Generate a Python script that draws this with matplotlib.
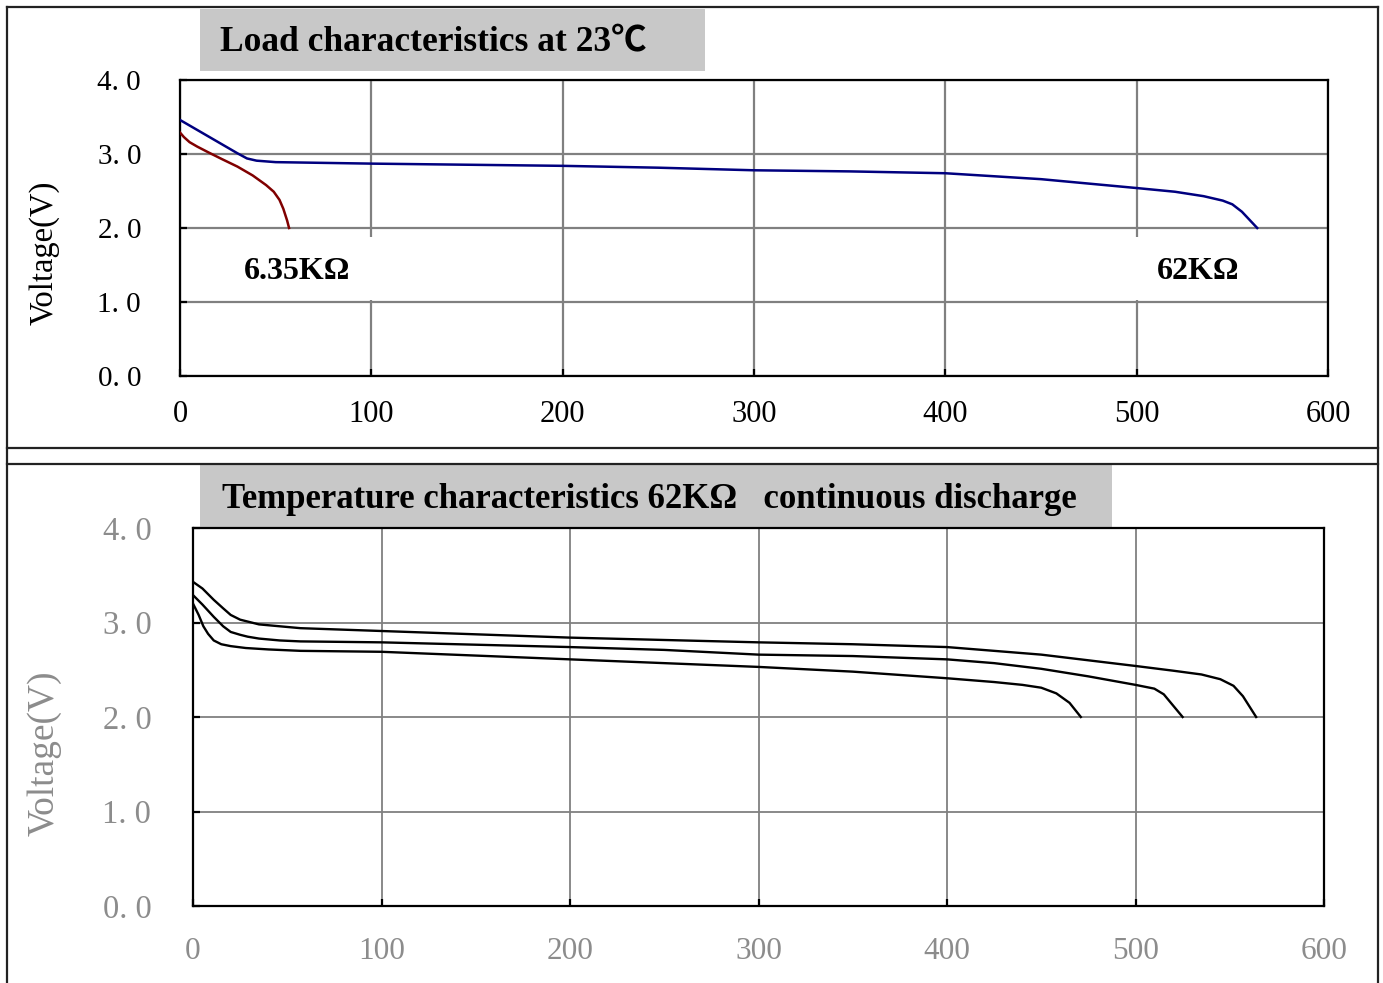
import matplotlib
matplotlib.use("Agg")
import matplotlib.pyplot as plt
from matplotlib.lines import Line2D
from matplotlib.patches import Rectangle

plt.rcParams['font.family'] = ['Liberation Serif', 'Noto Sans CJK SC', 'DejaVu Serif']

# ---- data: load characteristics at 23C (hours vs volts) ----
t_62k = [0, 10, 20, 30, 35, 40, 50, 75, 100, 150, 200, 250, 300, 350, 400, 450, 500,
         520, 535, 545, 550, 555, 563]
v_62k = [3.46, 3.31, 3.16, 3.01, 2.94, 2.91, 2.89, 2.88, 2.87, 2.855, 2.84, 2.815, 2.78,
         2.765, 2.74, 2.66, 2.54, 2.49, 2.43, 2.37, 2.32, 2.22, 2.00]
t_635k = [0, 2, 5, 9, 15, 22, 30, 38, 45, 49, 52, 54, 56, 57]
v_635k = [3.29, 3.23, 3.16, 3.10, 3.02, 2.93, 2.83, 2.71, 2.58, 2.49, 2.38, 2.26, 2.10, 2.00]

# ---- data: temperature characteristics, 62K continuous discharge ----
t_warm = [0, 5, 11, 16, 20, 25, 29, 35, 46, 57, 100, 150, 200, 250, 300, 350, 400, 425,
          450, 475, 500, 520, 535, 545, 552, 557, 564]
v_warm = [3.43, 3.36, 3.24, 3.15, 3.08, 3.03, 3.01, 2.98, 2.96, 2.94, 2.91, 2.875, 2.84,
          2.815, 2.79, 2.77, 2.74, 2.70, 2.66, 2.60, 2.54, 2.49, 2.45, 2.40, 2.33, 2.22, 2.00]
t_mid = [0, 5, 11, 16, 20, 25, 29, 35, 46, 57, 100, 150, 200, 250, 300, 350, 400, 425,
         450, 475, 500, 510, 515, 520, 525]
v_mid = [3.29, 3.19, 3.06, 2.96, 2.90, 2.87, 2.85, 2.83, 2.81, 2.80, 2.79, 2.765, 2.74,
         2.71, 2.66, 2.645, 2.61, 2.57, 2.51, 2.43, 2.34, 2.30, 2.24, 2.12, 2.00]
t_cold = [0, 3, 5.5, 8, 11, 15, 20, 28, 40, 57, 100, 150, 200, 250, 300, 350, 400, 425,
          440, 450, 458, 465, 471]
v_cold = [3.20, 3.08, 2.96, 2.88, 2.81, 2.77, 2.75, 2.73, 2.715, 2.70, 2.69, 2.65, 2.61,
          2.57, 2.53, 2.48, 2.41, 2.37, 2.34, 2.31, 2.25, 2.15, 2.00]

x_ticks = [0, 100, 200, 300, 400, 500, 600]
y_ticks = [0, 1, 2, 3, 4]
y_ticklabels = ["0. 0", "1. 0", "2. 0", "3. 0", "4. 0"]

W, H = 1383, 983
fig = plt.figure(figsize=(W / 100, H / 100), dpi=100)


def fx(x):
    return x / W


def fy(y):
    return 1 - y / H


def style_axes(ax, tick_color, xsize, ysize, xpad, ypad, grid_lw):
    ax.set_xlim(0, 600)
    ax.set_ylim(0, 4)
    ax.set_xticks(x_ticks)
    ax.set_yticks(y_ticks)
    ax.set_yticklabels(y_ticklabels)
    ax.grid(True, color='#808080', lw=grid_lw)
    ax.set_axisbelow(True)
    for s in ax.spines.values():
        s.set_linewidth(1.6)
        s.set_color('black')
    ax.tick_params(direction='in', length=5, width=1.6, color='black', labelcolor=tick_color)
    ax.tick_params(axis='x', pad=xpad, labelsize=xsize)
    ax.tick_params(axis='y', pad=ypad, labelsize=ysize)


# ---- top panel ----
ax1 = fig.add_axes([fx(180), fy(376), fx(1328 - 180), (376 - 80) / H])
style_axes(ax1, 'black', 22, 21, 17, 28, 1.6)
ax1.plot(t_62k, v_62k, color='#00007F', lw=1.8, zorder=3)
ax1.plot(t_635k, v_635k, color='#800000', lw=1.8, zorder=3)
ax1.add_patch(Rectangle((20, 1.03), 85, 0.85, facecolor='white', edgecolor='none', zorder=2))
ax1.add_patch(Rectangle((495, 1.03), 60, 0.85, facecolor='white', edgecolor='none', zorder=2))
ax1.text(33.5, 1.41, "6.35KΩ", fontsize=23, fontweight='bold', va='center', ha='left', zorder=4)
ax1.text(510.5, 1.41, "62KΩ", fontsize=23, fontweight='bold', va='center', ha='left', zorder=4)

# ---- bottom panel ----
ax2 = fig.add_axes([fx(193), fy(906), fx(1324 - 193), (906 - 528) / H])
style_axes(ax2, '#8C8C8C', 22.5, 23.5, 22, 30, 1.3)
for t, v in [(t_warm, v_warm), (t_mid, v_mid), (t_cold, v_cold)]:
    ax2.plot(t, v, color='black', lw=1.7, zorder=3)

# ---- frames and title boxes ----
frame = dict(color='#222222', lw=1.6, transform=fig.transFigure)
fig.add_artist(Line2D([fx(7), fx(1378)], [fy(7), fy(7)], **frame))
fig.add_artist(Line2D([fx(7), fx(1378)], [fy(448), fy(448)], **frame))
fig.add_artist(Line2D([fx(7), fx(1378)], [fy(464), fy(464)], **frame))
fig.add_artist(Line2D([fx(7), fx(7)], [fy(7), fy(983)], **frame))
fig.add_artist(Line2D([fx(1378), fx(1378)], [fy(7), fy(983)], **frame))

fig.add_artist(Rectangle((fx(200), fy(71)), fx(505), 62 / H, facecolor='#C8C8C8',
                         edgecolor='none', transform=fig.transFigure, zorder=0))
fig.add_artist(Rectangle((fx(200), fy(527)), fx(912), 62 / H, facecolor='#C8C8C8',
                         edgecolor='none', transform=fig.transFigure, zorder=0))
fig.text(fx(220), fy(43), "Load characteristics at 23℃", fontsize=25.5, fontweight='bold',
         va='center', ha='left')
fig.text(fx(222), fy(500), "Temperature characteristics 62KΩ   continuous discharge",
         fontsize=25, fontweight='bold', va='center', ha='left')

fig.text(fx(44), fy(253), "Voltage(V)", fontsize=23.5, rotation=90, va='center', ha='center')
fig.text(fx(44), fy(753), "Voltage(V)", fontsize=27, rotation=90, va='center', ha='center',
         color='#8C8C8C')

fig.savefig("out.png", dpi=100)
